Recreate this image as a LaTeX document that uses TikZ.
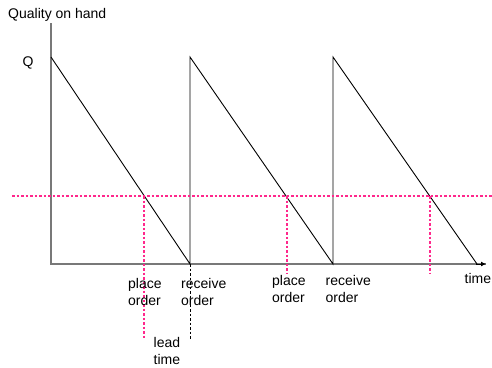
\documentclass[tikz,border=0pt]{standalone}
\usepackage{fontspec}
\setmainfont{Liberation Sans}
\usetikzlibrary{arrows.meta}
\definecolor{reorderpink}{RGB}{255,40,140}
\definecolor{axisgray}{RGB}{120,120,120}
\begin{document}
\begin{tikzpicture}[x=1bp,y=-1bp,
  lbl/.style={font=\fontsize{14bp}{17bp}\selectfont, inner sep=0pt, align=left},
  axisline/.style={draw=axisgray, line width=1.4bp},
  saw/.style={draw=black, line width=0.9bp},
  pinkdot/.style={draw=reorderpink, line width=1.1bp, dash pattern=on 2.5bp off 2bp},
  blackdot/.style={draw=black, line width=0.9bp, dash pattern=on 2.5bp off 2bp}]
\useasboundingbox (0,0) rectangle (492,367);

% axes
\coordinate (origin) at (51,264);
\coordinate (ytop) at (51,23);
\coordinate (xend) at (486,264);
\draw[axisline] (ytop) -- (origin) -- (xend);
\draw[black, line width=0.9bp, -{Latex[length=5bp,width=5bp]}] (476,264) -- (xend);

% sawtooth stock level
\coordinate (q1) at (51,57);
\coordinate (r1) at (190,264);
\coordinate (q2) at (190,57);
\coordinate (r2) at (333,264);
\coordinate (q3) at (333,57);
\coordinate (r3) at (477,264);
\draw[saw] (q1) -- (r1) -- (q2) -- (r2) -- (q3) -- (r3);

% reorder level and order points
\coordinate (rl0) at (12,196);
\coordinate (rl1) at (492,196);
\draw[pinkdot] (rl0) -- (rl1);
\coordinate (p1) at (144,196);
\coordinate (p1e) at (144,340);
\coordinate (p2) at (287,196);
\coordinate (p2e) at (287,274);
\coordinate (p3) at (430,196);
\coordinate (p3e) at (430,274);
\draw[pinkdot] (p1) -- (p1e);
\draw[pinkdot] (p2) -- (p2e);
\draw[pinkdot] (p3) -- (p3e);
\coordinate (lt) at (190,340);
\draw[blackdot] (r1) -- (lt);

% labels
\node[lbl, anchor=base west] (ylabel) at (8,18) {Quality on hand};
\node[lbl, anchor=base west] (qlabel) at (22.5,66) {Q};
\node[lbl, anchor=base west] (tlabel) at (464.5,283) {time};
\node[lbl, anchor=north west] (po1) at (128,278.5) {place\\order};
\node[lbl, anchor=north west] (ro1) at (181,278.5) {receive\\order};
\node[lbl, anchor=north west] (po2) at (272,275) {place\\order};
\node[lbl, anchor=north west] (ro2) at (325.5,275) {receive\\order};
\node[lbl, anchor=north west] (lead) at (153.5,337) {lead\\time};
\end{tikzpicture}
\end{document}
